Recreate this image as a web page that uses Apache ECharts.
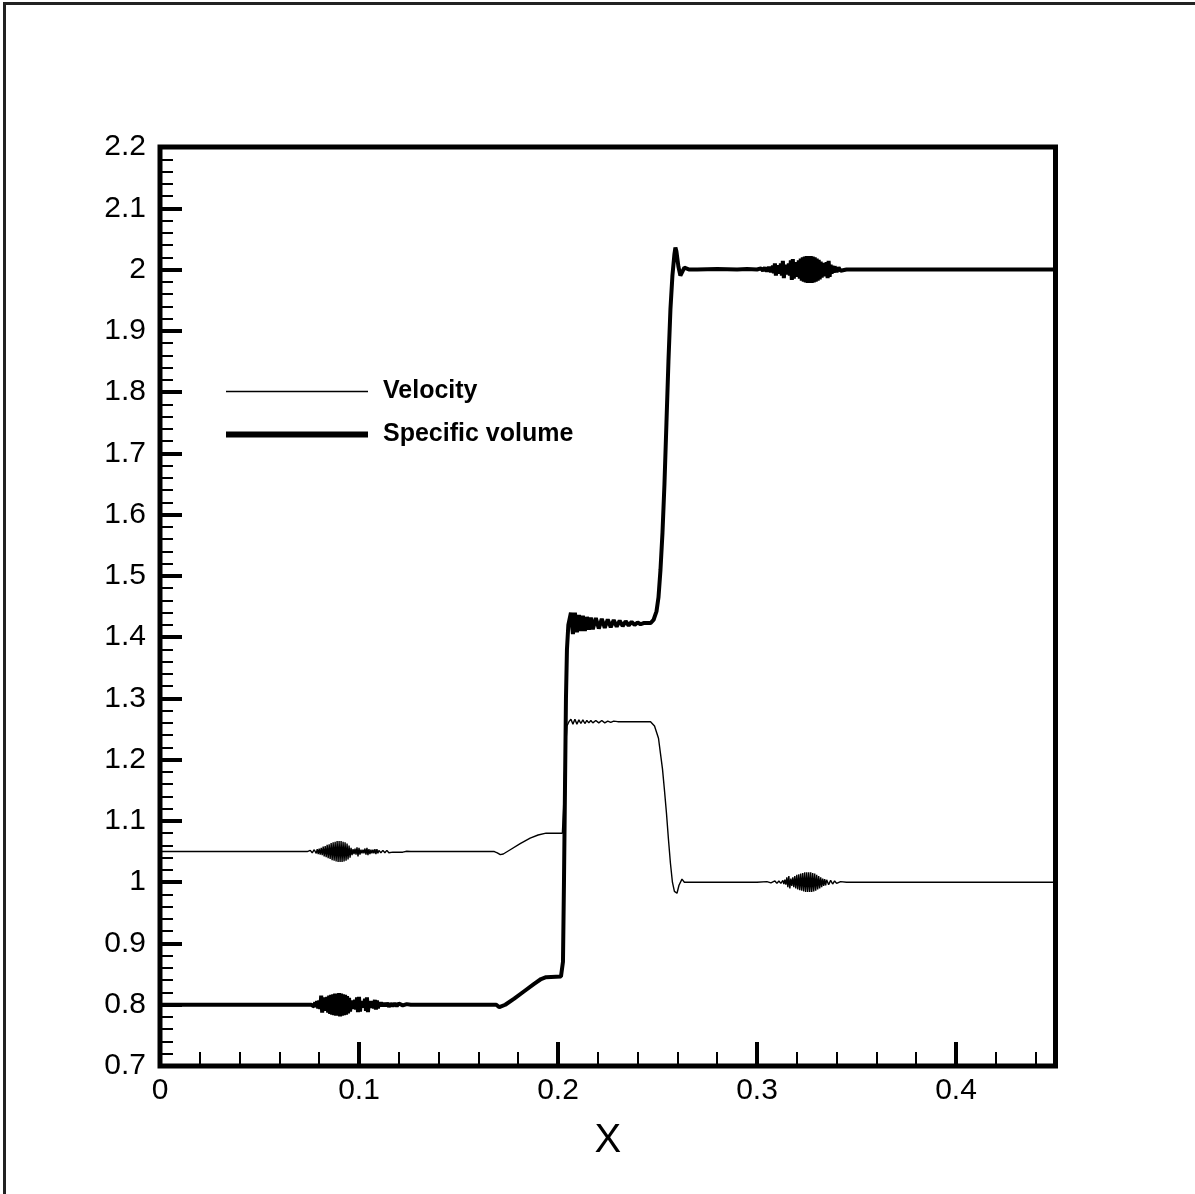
<!DOCTYPE html>
<html>
<head>
<meta charset="utf-8">
<script src="https://cdn.jsdelivr.net/npm/echarts@6.0.0/dist/echarts.min.js"></script>
<style>
  html, body { margin: 0; padding: 0; background: #fff; }
  #chart { width: 1195px; height: 1194px; }
</style>
</head>
<body>
<div id="chart"></div>
<script>
// values, [x, value]
const velocity = [
  [0, 1.05], [0.074, 1.05],
  [0.0755, 1.052], [0.0765, 1.048], [0.0775, 1.053], [0.0785, 1.047], [0.079, 1.054], [0.0795, 1.046],
  [0.080, 1.055], [0.0805, 1.045], [0.081, 1.056], [0.0815, 1.044], [0.082, 1.058], [0.0825, 1.042],
  [0.083, 1.059], [0.0835, 1.041], [0.084, 1.061], [0.0845, 1.039], [0.085, 1.062], [0.0855, 1.038],
  [0.086, 1.064], [0.0865, 1.036], [0.087, 1.065], [0.0875, 1.035], [0.088, 1.066], [0.0885, 1.034],
  [0.089, 1.067], [0.0895, 1.033], [0.090, 1.067], [0.0905, 1.033], [0.091, 1.067], [0.0915, 1.033],
  [0.092, 1.066], [0.0925, 1.034], [0.093, 1.065], [0.0935, 1.035], [0.094, 1.063], [0.0945, 1.037],
  [0.095, 1.060], [0.0955, 1.040], [0.096, 1.056], [0.0965, 1.044], [0.097, 1.054], [0.0975, 1.046],
  [0.098, 1.055], [0.0985, 1.045], [0.099, 1.057], [0.0995, 1.042], [0.100, 1.056], [0.1005, 1.045],
  [0.101, 1.053], [0.1015, 1.047], [0.102, 1.053], [0.1025, 1.047], [0.103, 1.055], [0.1035, 1.045],
  [0.104, 1.056], [0.1045, 1.044], [0.105, 1.054], [0.1055, 1.046], [0.106, 1.053], [0.1065, 1.047],
  [0.107, 1.053], [0.1075, 1.047], [0.108, 1.054], [0.1085, 1.046], [0.109, 1.054], [0.1095, 1.047],
  [0.110, 1.052], [0.111, 1.048], [0.112, 1.052], [0.113, 1.048], [0.114, 1.052], [0.115, 1.048],
  [0.116, 1.051], [0.117, 1.049], [0.118, 1.051], [0.119, 1.049], [0.120, 1.051], [0.122, 1.049],
  [0.124, 1.0505], [0.126, 1.05],
  [0.168, 1.05], [0.1695, 1.048], [0.171, 1.045], [0.1725, 1.046], [0.176, 1.053], [0.181, 1.063],
  [0.186, 1.072], [0.19, 1.077], [0.194, 1.08], [0.2022, 1.08],
  [0.2028, 1.12], [0.2035, 1.2], [0.2045, 1.255], [0.2055, 1.262],
  [0.2065, 1.266], [0.2075, 1.258], [0.2085, 1.266], [0.2095, 1.258], [0.2105, 1.265], [0.2115, 1.259],
  [0.2125, 1.265], [0.2135, 1.259], [0.2145, 1.264], [0.2155, 1.26], [0.2165, 1.264], [0.2175, 1.26],
  [0.219, 1.264], [0.2205, 1.26], [0.222, 1.264], [0.2235, 1.26], [0.225, 1.263], [0.2265, 1.261],
  [0.228, 1.263], [0.23, 1.262], [0.2465, 1.262],
  [0.2485, 1.255], [0.2505, 1.235], [0.2515, 1.21], [0.2525, 1.185], [0.2535, 1.15], [0.2545, 1.113],
  [0.2555, 1.07], [0.2565, 1.031], [0.2575, 1.0], [0.2585, 0.985], [0.2598, 0.982], [0.2608, 0.995],
  [0.2623, 1.005], [0.2635, 1.0], [0.27, 1.0],
  [0.30, 1.0], [0.305, 1.001], [0.307, 0.999], [0.309, 1.002], [0.310, 0.998], [0.311, 1.002],
  [0.312, 0.998], [0.313, 1.003], [0.3135, 0.997], [0.314, 1.004], [0.3145, 0.996], [0.315, 1.008],
  [0.3155, 0.992], [0.316, 1.010], [0.3165, 0.990], [0.317, 1.006], [0.3175, 0.994], [0.318, 1.008],
  [0.3185, 0.992], [0.319, 1.010], [0.3195, 0.990], [0.320, 1.012], [0.3205, 0.988], [0.321, 1.013],
  [0.3215, 0.987], [0.322, 1.014], [0.3225, 0.986], [0.323, 1.015], [0.3235, 0.985], [0.324, 1.016],
  [0.3245, 0.984], [0.325, 1.016], [0.3255, 0.984], [0.326, 1.016], [0.3265, 0.984], [0.327, 1.016],
  [0.3275, 0.984], [0.328, 1.015], [0.3285, 0.985], [0.329, 1.014], [0.3295, 0.986], [0.330, 1.012],
  [0.3305, 0.988], [0.331, 1.010], [0.3315, 0.990], [0.332, 1.008], [0.3325, 0.992], [0.333, 1.006],
  [0.3335, 0.994], [0.334, 1.005], [0.3345, 0.995], [0.335, 1.004], [0.336, 0.996], [0.337, 1.003],
  [0.338, 0.997], [0.339, 1.002], [0.340, 0.998], [0.342, 1.001], [0.345, 1.0], [0.45, 1.0]
];

const specificVolume = [
  [0, 0.8], [0.076, 0.8],
  [0.077, 0.803], [0.0775, 0.797], [0.078, 0.804], [0.0785, 0.796], [0.079, 0.806], [0.0795, 0.794],
  [0.080, 0.807], [0.0805, 0.793], [0.081, 0.815], [0.0815, 0.787], [0.082, 0.812], [0.0825, 0.79],
  [0.083, 0.81], [0.0835, 0.79], [0.084, 0.813], [0.0845, 0.787], [0.085, 0.815], [0.0855, 0.785],
  [0.086, 0.816], [0.0865, 0.784], [0.087, 0.817], [0.0875, 0.783], [0.088, 0.818], [0.0885, 0.782],
  [0.089, 0.818], [0.0895, 0.782], [0.090, 0.819], [0.0905, 0.781], [0.091, 0.818], [0.0915, 0.782],
  [0.092, 0.817], [0.0925, 0.783], [0.093, 0.816], [0.0935, 0.784], [0.094, 0.814], [0.0945, 0.786],
  [0.095, 0.811], [0.0955, 0.789], [0.096, 0.807], [0.0965, 0.793], [0.097, 0.806], [0.0975, 0.794],
  [0.098, 0.808], [0.0985, 0.792], [0.099, 0.812], [0.0995, 0.788], [0.100, 0.813], [0.1005, 0.789],
  [0.101, 0.806], [0.1015, 0.795], [0.102, 0.805], [0.1025, 0.795], [0.103, 0.81], [0.1035, 0.79],
  [0.104, 0.812], [0.1045, 0.788], [0.105, 0.806], [0.1055, 0.795], [0.106, 0.804], [0.1065, 0.796],
  [0.107, 0.806], [0.1075, 0.794], [0.108, 0.808], [0.1085, 0.792], [0.109, 0.807], [0.1095, 0.794],
  [0.110, 0.804], [0.1105, 0.797], [0.111, 0.804], [0.1115, 0.797], [0.112, 0.803], [0.1125, 0.797],
  [0.113, 0.803], [0.1135, 0.797], [0.114, 0.803], [0.115, 0.797], [0.116, 0.802], [0.117, 0.798],
  [0.118, 0.802], [0.119, 0.798], [0.120, 0.802], [0.122, 0.799], [0.124, 0.801], [0.126, 0.8],
  [0.169, 0.8], [0.1705, 0.796], [0.1715, 0.795], [0.1735, 0.8], [0.178, 0.81], [0.183, 0.822],
  [0.188, 0.834], [0.1915, 0.842], [0.194, 0.845], [0.2015, 0.846],
  [0.2025, 0.87], [0.203, 1.0], [0.2035, 1.15], [0.204, 1.3], [0.2045, 1.38], [0.2052, 1.42],
  [0.2065, 1.44], [0.2075, 1.405], [0.2085, 1.44], [0.2095, 1.408], [0.2105, 1.436], [0.2115, 1.41],
  [0.2125, 1.435], [0.2135, 1.41], [0.2145, 1.433], [0.2155, 1.412], [0.2165, 1.432], [0.2175, 1.413],
  [0.219, 1.431], [0.2205, 1.414], [0.222, 1.43], [0.2235, 1.415], [0.225, 1.429], [0.2265, 1.416],
  [0.228, 1.428], [0.2295, 1.417], [0.231, 1.427], [0.2325, 1.418], [0.234, 1.426], [0.2355, 1.419],
  [0.237, 1.425], [0.2385, 1.42], [0.24, 1.424], [0.2415, 1.421], [0.243, 1.423], [0.2465, 1.423],
  [0.248, 1.428], [0.2495, 1.442], [0.2505, 1.465], [0.2515, 1.51], [0.2525, 1.57], [0.2535, 1.65],
  [0.2545, 1.75], [0.2555, 1.85], [0.2565, 1.935], [0.2575, 1.99], [0.2585, 2.025],
  [0.259, 2.036], [0.2595, 2.03], [0.2605, 2.005], [0.2615, 1.99], [0.2625, 1.992], [0.2635, 2.003],
  [0.2645, 2.002], [0.266, 2.0],
  [0.27, 2.0], [0.28, 2.001], [0.29, 2.0], [0.295, 2.001], [0.30, 2.0],
  [0.302, 2.002], [0.303, 1.998], [0.304, 2.003], [0.305, 1.997], [0.306, 2.004], [0.307, 1.996],
  [0.308, 2.006], [0.3085, 1.994], [0.309, 2.01], [0.3095, 1.99], [0.310, 2.006], [0.3105, 1.994],
  [0.311, 2.007], [0.3115, 1.993], [0.312, 2.01], [0.3125, 1.99], [0.313, 2.014], [0.3135, 1.986],
  [0.314, 2.008], [0.3145, 1.992], [0.315, 2.008], [0.3155, 1.992], [0.316, 2.01], [0.3165, 1.99],
  [0.317, 2.015], [0.3175, 1.983], [0.318, 2.017], [0.3185, 1.985], [0.319, 2.01], [0.3195, 1.99],
  [0.320, 2.012], [0.3205, 1.988], [0.321, 2.015], [0.3215, 1.985], [0.322, 2.018], [0.3225, 1.982],
  [0.323, 2.02], [0.3235, 1.98], [0.324, 2.021], [0.3245, 1.979], [0.325, 2.022], [0.3255, 1.978],
  [0.326, 2.022], [0.3265, 1.978], [0.327, 2.022], [0.3275, 1.978], [0.328, 2.021], [0.3285, 1.979],
  [0.329, 2.02], [0.3295, 1.98], [0.330, 2.018], [0.3305, 1.982], [0.331, 2.016], [0.3315, 1.984],
  [0.332, 2.013], [0.3325, 1.987], [0.333, 2.011], [0.3335, 1.989], [0.334, 2.01], [0.3345, 1.99],
  [0.335, 2.012], [0.3355, 1.986], [0.336, 2.014], [0.3365, 1.988], [0.337, 2.008], [0.3375, 1.993],
  [0.338, 2.006], [0.3385, 1.995], [0.339, 2.005], [0.340, 1.996], [0.341, 2.003], [0.342, 1.998],
  [0.343, 2.001], [0.345, 2.0], [0.45, 2.0]
];

const seriesNames = ['Velocity', 'Specific volume'];

const chart = echarts.init(document.getElementById('chart'));

const option = {
  animation: false,
  backgroundColor: '#fff',
  textStyle: { fontFamily: 'Liberation Sans, Arial, sans-serif', color: '#000' },
  graphic: [
    { type: 'line', shape: { x1: 3, y1: 3.5, x2: 1195, y2: 3.5 }, style: { stroke: '#222', lineWidth: 3 } },
    { type: 'line', shape: { x1: 4.5, y1: 3, x2: 4.5, y2: 1194 }, style: { stroke: '#222', lineWidth: 3 } }
  ],
  grid: {
    left: 160,
    top: 147,
    width: 895.5,
    height: 919,
    show: true,
    borderColor: '#000',
    borderWidth: 5,
    backgroundColor: 'transparent'
  },
  legend: {
    left: 218,
    top: 374,
    orient: 'vertical',
    itemWidth: 142,
    itemHeight: 24,
    itemGap: 18,
    selectedMode: false,
    itemStyle: { opacity: 0 },
    textStyle: { fontSize: 25, fontWeight: 'bold', color: '#000', padding: [0, 0, 0, 10] },
    data: [
      { name: seriesNames[0], itemStyle: { opacity: 0 }, lineStyle: { width: 1.5, color: '#000' } },
      { name: seriesNames[1], itemStyle: { opacity: 0 }, lineStyle: { width: 6, color: '#000' } }
    ]
  },
  xAxis: [
    {
      // minor ticks every 0.02
      type: 'value',
      min: 0,
      max: 0.45,
      interval: 0.02,
      position: 'bottom',
      axisLine: { show: false },
      axisTick: { inside: true, length: 14, lineStyle: { width: 2, color: '#000' } },
      axisLabel: { show: false },
      splitLine: { show: false }
    },
    {
      type: 'value',
      min: 0,
      max: 0.45,
      interval: 0.1,
      position: 'bottom',
      name: 'X',
      nameLocation: 'middle',
      nameGap: 55,
      nameTextStyle: { fontSize: 40, color: '#000' },
      axisLine: { show: false },
      axisTick: { inside: true, length: 24, lineStyle: { width: 4, color: '#000' } },
      axisLabel: {
        fontSize: 30,
        color: '#000',
        margin: 10,
        formatter: function (v) {
          return v > 0.44 ? '' : String(+v.toFixed(2));
        }
      },
      splitLine: { show: false }
    }
  ],
  yAxis: {
    type: 'value',
    min: 0.7,
    max: 2.2,
    interval: 0.1,
    axisLine: { show: false },
    axisTick: { inside: true, length: 22, lineStyle: { width: 4, color: '#000' } },
    minorTick: { show: true, splitNumber: 5, length: 13, lineStyle: { width: 2, color: '#000' } },
    axisLabel: {
      fontSize: 30,
      color: '#000',
      margin: 14,
      formatter: function (v) {
        return String(+v.toFixed(2));
      }
    },
    splitLine: { show: false },
    minorSplitLine: { show: false }
  },
  series: [
    {
      name: seriesNames[0],
      type: 'line',
      data: velocity,
      symbol: 'none',
      sampling: null,
      lineStyle: { color: '#000', width: 1.4 },
      itemStyle: { color: '#000' }
    },
    {
      name: seriesNames[1],
      type: 'line',
      data: specificVolume,
      symbol: 'none',
      lineStyle: { color: '#000', width: 4 },
      itemStyle: { color: '#000' }
    }
  ]
};

chart.setOption(option);
</script>
</body>
</html>
